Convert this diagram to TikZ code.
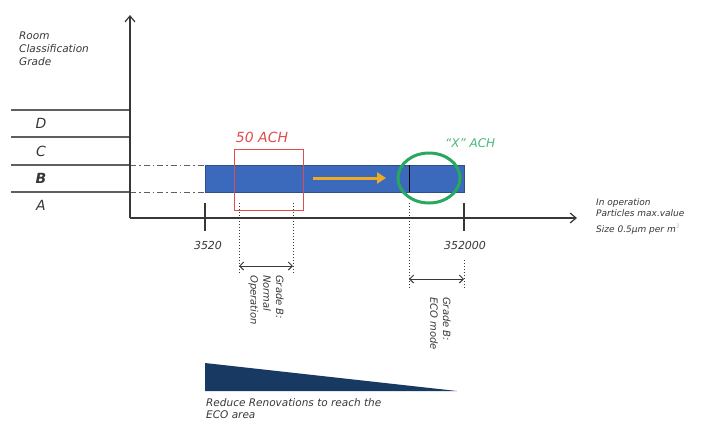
\documentclass[tikz,border=0pt]{standalone}
\usepackage{fontspec}
\setmainfont{DejaVu Sans}
\usetikzlibrary{arrows.meta,shapes.geometric}
\definecolor{axisgray}{RGB}{55,55,55}
\definecolor{linegray}{RGB}{95,95,95}
\definecolor{txtgray}{RGB}{55,55,55}
\definecolor{barblue}{RGB}{59,106,188}
\definecolor{barborder}{RGB}{45,80,140}
\definecolor{achred}{RGB}{222,78,78}
\definecolor{ecogreen}{RGB}{40,168,95}
\definecolor{xgreen}{RGB}{70,185,120}
\definecolor{arroworange}{RGB}{238,172,36}
\definecolor{navy}{RGB}{24,58,98}
\begin{document}
\begin{tikzpicture}[x=1pt,y=-1pt,
  axis/.style={draw=axisgray, line width=1.3pt, -{Straight Barb[length=6pt,width=10pt,line width=1.2pt]}},
  gradeline/.style={draw=linegray, line width=1.1pt},
  dashdot/.style={draw=linegray, line width=1pt, dash pattern=on 6pt off 3pt on 1.5pt off 3pt},
  tick/.style={draw=axisgray, line width=1.1pt},
  dotline/.style={draw=axisgray, line width=0.9pt, dash pattern=on 1.2pt off 1.8pt},
  span/.style={draw=axisgray, line width=1pt, {Straight Barb[length=4pt,width=8pt]}-{Straight Barb[length=4pt,width=8pt]}},
  lbl/.style={text=txtgray, font=\fontsize{10.5}{12.8}\selectfont\itshape, inner sep=0pt, align=left},
  grade/.style={text=txtgray, font=\fontsize{14}{15}\selectfont\itshape, inner sep=0pt},
  num/.style={text=txtgray, font=\fontsize{11}{12}\selectfont\itshape, inner sep=0pt},
  rot/.style={text=txtgray, font=\fontsize{10}{12.8}\selectfont\itshape, inner sep=0pt, align=left, rotate=-90, anchor=north west}
]
\useasboundingbox (0,0) rectangle (715,424);

% coordinates
\coordinate (O) at (130,218);
\coordinate (ytop) at (130,15);
\coordinate (xend) at (577,218);
\foreach \n/\y in {gD/110,gC/137,gB/165,gA/192}{
  \coordinate (\n l) at (11,\y);
  \coordinate (\n r) at (130,\y);
}
\coordinate (dBl) at (205,165);
\coordinate (dAl) at (205,192);

% grade lines
\foreach \n in {gD,gC,gB,gA}{ \draw[gradeline] (\n l) -- (\n r); }
\draw[dashdot] (gBr) -- (dBl);
\draw[dashdot] (gAr) -- (dAl);

% blue bar
\fill[barblue] (205,165) rectangle (464,192);
\draw[barborder, line width=0.6pt] (205,165) rectangle (464,192);
\coordinate (ecoTop) at (409,165);
\coordinate (ecoBot) at (409,192);
\draw[black, line width=1pt] (ecoTop) -- (ecoBot);

% red 50 ACH box
\draw[achred, line width=1pt] (234,149) rectangle (303,210);
\node[text=achred, font=\fontsize{14}{15}\selectfont\itshape, inner sep=0pt] (ach50) at (262,137) {50 ACH};

% orange arrow
\coordinate (oa1) at (313,178);
\coordinate (oa2) at (386,178);
\draw[arroworange, line width=3pt, -{Triangle[length=9pt,width=11pt]}] (oa1) -- (oa2);

% green ellipse
\node[ellipse, draw=ecogreen, line width=3pt, minimum width=62pt, minimum height=50pt, inner sep=0pt] (eco) at (429,178) {};
\node[text=xgreen, font=\fontsize{12}{13}\selectfont\itshape, inner sep=0pt, anchor=west] (xach) at (445,143) {“X” ACH};

% axes
\draw[axis] (O) -- (ytop);
\draw[axis] (O) -- (xend);

% ticks
\coordinate (t1a) at (205,203); \coordinate (t1b) at (205,231);
\coordinate (t2a) at (464,203); \coordinate (t2b) at (464,231);
\draw[tick] (t1a) -- (t1b);
\draw[tick] (t2a) -- (t2b);
\node[num] (n3520) at (208,245) {3520};
\node[num] (n352000) at (465,245) {352000};

% normal operation span
\coordinate (na1) at (239,203); \coordinate (na2) at (239,273);
\coordinate (nb1) at (293,203); \coordinate (nb2) at (293,273);
\draw[dotline] (na1) -- (na2);
\draw[dotline] (nb1) -- (nb2);
\coordinate (nsa) at (239,266); \coordinate (nsb) at (293,266);
\draw[span] (nsa) -- (nsb);
\node[rot] (normal) at (284,275) {Grade B:\\Normal\\Operation};

% eco span
\coordinate (ea1) at (409,203); \coordinate (ea2) at (409,288);
\coordinate (eb1) at (464,260); \coordinate (eb2) at (464,288);
\draw[dotline] (ea1) -- (ea2);
\draw[dotline] (eb1) -- (eb2);
\coordinate (esa) at (409,279); \coordinate (esb) at (464,279);
\draw[span] (esa) -- (esb);
\node[rot] (ecomode) at (451,297) {Grade B:\\ECO mode};

% grade labels
\node[lbl, anchor=north west] (title) at (19,32) {Room\\Classification\\Grade};
\node[grade] (D) at (41,123) {D};
\node[grade] (C) at (41,151) {C};
\node[grade, font=\fontsize{14}{15}\selectfont\itshape\bfseries] (B) at (41,178) {B};
\node[grade] (A) at (41,205) {A};

% x axis label
\node[text=txtgray, font=\fontsize{9}{11.5}\selectfont\itshape, inner sep=0pt, align=left, anchor=north west] (xlab) at (596,198) {In operation\\Particles max.value};
\node[text=txtgray, font=\fontsize{9}{11}\selectfont\itshape, inner sep=0pt, anchor=north west] (xsize) at (596,224) {Size 0.5µm per m\textsuperscript{\textcolor{gray!50}{3}}};

% bottom wedge
\coordinate (w1) at (205,363);
\coordinate (w2) at (205,391);
\coordinate (w3) at (457,391);
\fill[navy] (w1) -- (w2) -- (w3) -- cycle;
\node[lbl, anchor=north west] (reduce) at (206,398) {Reduce Renovations to reach the\\ECO area};
\end{tikzpicture}
\end{document}
